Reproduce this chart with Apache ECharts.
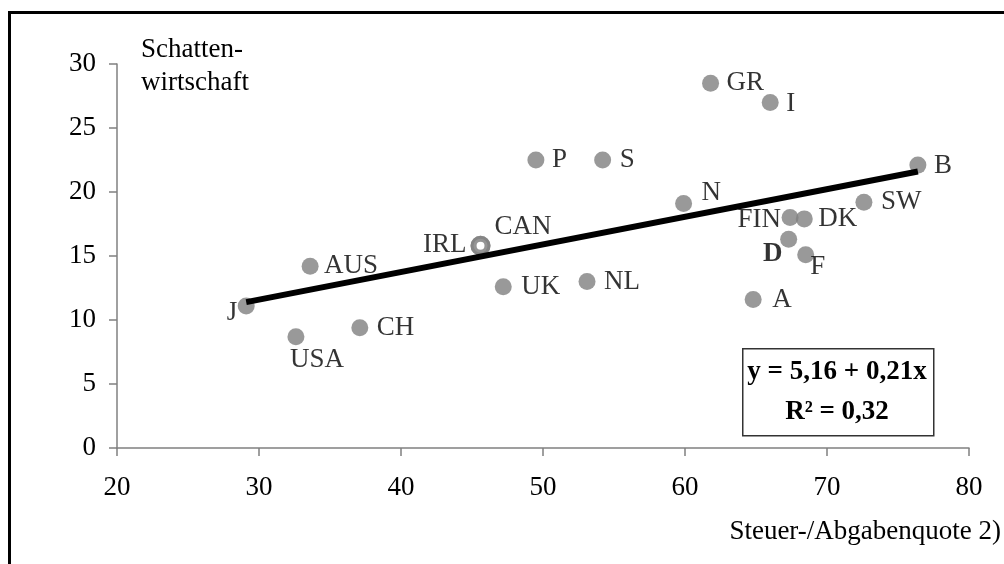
<!DOCTYPE html>
<html>
<head>
<meta charset="utf-8">
<script src="https://cdn.jsdelivr.net/npm/echarts@6/dist/echarts.min.js"></script>
<style>html,body{margin:0;padding:0;background:#fff}#c{width:1004px;height:564px}</style>
</head>
<body>
<div id="c"></div>
<script>
// Data
const countries = ['GR','I','P','S','B','N','SW','FIN','DK','D','F','NL','UK','A','IRL','CAN','AUS','J','USA','CH'];
const taxRate   = [61.8, 66.0, 49.5, 54.2, 76.4, 59.9, 72.6, 67.4, 68.4, 67.3, 68.5, 53.1, 47.2, 64.8, 45.6, 45.6, 33.6, 29.1, 32.6, 37.1];
const shadowEco = [28.5, 27.0, 22.5, 22.5, 22.1, 19.1, 19.2, 18.0, 17.9, 16.3, 15.1, 13.0, 12.6, 11.6, 15.8, 15.8, 14.2, 11.1, 8.7, 9.4];
const trendX = [29.1, 76.4];
const trendY = [11.4, 21.6];
const xTicks = [20, 30, 40, 50, 60, 70, 80];
const yTicks = [0, 5, 10, 15, 20, 25, 30];
const yTitle = 'Schatten-\nwirtschaft';
const xTitle = 'Steuer-/Abgabenquote 2)';
const eqLine1 = 'y = 5,16 + 0,21x';
const eqLine2 = 'R² = 0,32';

// Label placement (style, not data)
const FONT = 'Liberation Serif';
const FS = 27;
const labelPlace = {
  GR:  {align:'left', offset:[16,0]},
  I:   {align:'left', offset:[16,2]},
  P:   {align:'left', offset:[16,0]},
  S:   {align:'left', offset:[17,0]},
  B:   {align:'left', offset:[16,1]},
  N:   {align:'left', offset:[18,-11]},
  SW:  {align:'left', offset:[17,0]},
  FIN: {align:'right', offset:[-9,2]},
  DK:  {align:'left', offset:[14,0]},
  D:   {align:'center', offset:[-16,15], bold:true},
  F:   {align:'center', offset:[12,12]},
  NL:  {align:'left', offset:[17,0]},
  UK:  {align:'left', offset:[18,0]},
  A:   {align:'left', offset:[19,0]},
  IRL: {align:'right', offset:[-14,-1]},
  CAN: {align:'left', offset:[14,-19]},
  AUS: {align:'left', offset:[14,0]},
  J:   {align:'right', offset:[-9,7]},
  USA: {align:'center', offset:[21,23]},
  CH:  {align:'left', offset:[17,0]}
};

const points = countries.map((name, i) => {
  const p = labelPlace[name];
  const ring = name === 'IRL' || name === 'CAN';
  return {
    name: name,
    value: [taxRate[i], shadowEco[i]],
    itemStyle: ring ? {color:'#ffffff', borderColor:'#808080', borderWidth:6} : {color:'#808080'},
    symbolSize: ring ? 14 : 17,
    label: {
      show: true,
      formatter: name,
      position: 'inside',
      align: p.align,
      verticalAlign: 'middle',
      offset: p.offset,
      fontFamily: FONT,
      fontSize: FS,
      fontWeight: p.bold ? 'bold' : 'normal',
      color: '#000'
    }
  };
});

const chart = echarts.init(document.getElementById('c'), null, {renderer:'canvas'});
chart.setOption({
  animation: false,
  backgroundColor: '#ffffff',
  grid: {left:117, right:35, top:64, bottom:116, containLabel:false},
  xAxis: {
    type: 'value', min: xTicks[0], max: xTicks[xTicks.length-1], interval: 10,
    splitLine: {show:false},
    axisLine: {show:true, lineStyle:{color:'#808080', width:1.5}},
    axisTick: {show:true, inside:false, length:8, lineStyle:{color:'#808080', width:1.5}},
    axisLabel: {margin:26, fontFamily:FONT, fontSize:FS, color:'#000'}
  },
  yAxis: {
    type: 'value', min: yTicks[0], max: yTicks[yTicks.length-1], interval: 5,
    splitLine: {show:false},
    axisLine: {show:true, lineStyle:{color:'#808080', width:1.5}},
    axisTick: {show:true, inside:false, length:8, lineStyle:{color:'#808080', width:1.5}},
    axisLabel: {margin:21, fontFamily:FONT, fontSize:FS, color:'#000'}
  },
  series: [
    {
      type: 'scatter',
      data: points,
      z: 2
    },
    {
      type: 'line',
      data: trendX.map((x, i) => [x, trendY[i]]),
      showSymbol: false,
      symbol: 'none',
      lineStyle: {color:'#000', width:6},
      z: 3,
      silent: true
    }
  ],
  graphic: [
    {type:'rect', left:7, top:10, shape:{x:0, y:0, width:1100, height:700}, style:{fill:'none', stroke:'#000', lineWidth:3}, silent:true},
    {type:'text', left:141, top:33, style:{text:yTitle, font:FS + 'px "Liberation Serif"', fill:'#000', lineHeight:33}},
    {type:'text', right:3, top:518, style:{text:xTitle, font:FS + 'px "Liberation Serif"', fill:'#000'}},
    {type:'rect', left:742, top:348, shape:{x:0,y:0,width:191,height:87}, style:{fill:'#fff', stroke:'#333', lineWidth:1.5}},
    {type:'text', x:837, y:372, style:{text:eqLine1, font:'bold ' + FS + 'px "Liberation Serif"', fill:'#000', align:'center', verticalAlign:'middle'}},
    {type:'text', x:837, y:412, style:{text:eqLine2, font:'bold ' + FS + 'px "Liberation Serif"', fill:'#000', align:'center', verticalAlign:'middle'}}
  ]
});
</script>
</body>
</html>
